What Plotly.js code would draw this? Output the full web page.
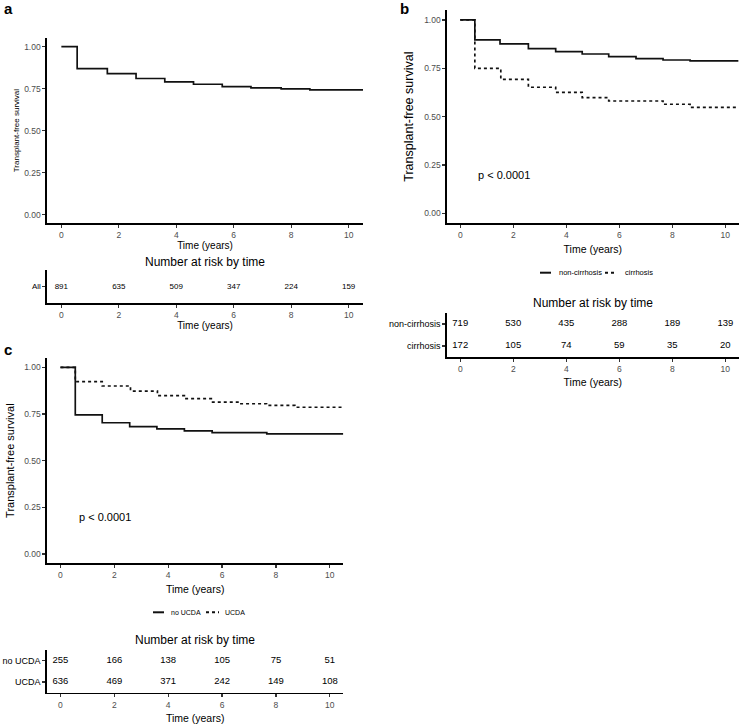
<!DOCTYPE html>
<html><head><meta charset="utf-8">
<script src="https://cdn.plot.ly/plotly-3.0.1.min.js"></script>
<style>html,body{margin:0;padding:0;background:#fff}#chart{width:740px;height:726px}</style>
</head><body><div id="chart"></div>
<script>
// ---------- data ----------
const riskTimes = [0, 2, 4, 6, 8, 10];
const survTicks = [0, 0.25, 0.5, 0.75, 1];
const survTickText = ['0.00', '0.25', '0.50', '0.75', '1.00'];

// panel a: all patients
const timesAll = [0, 0.55, 1.6, 2.6, 3.6, 4.6, 5.6, 6.6, 7.65, 8.65, 10.5];
const survAll  = [1.0, 0.869, 0.839, 0.81, 0.79, 0.776, 0.762, 0.754, 0.748, 0.742, 0.742];
const riskAll  = [891, 635, 509, 347, 224, 159];

// panel b: cirrhosis
const timesNonCirr = [0, 0.55, 1.5, 2.57, 3.6, 4.6, 5.6, 6.63, 7.65, 8.67, 10.5];
const survNonCirr  = [1.0, 0.897, 0.876, 0.852, 0.836, 0.824, 0.81, 0.80, 0.793, 0.788, 0.788];
const timesCirr    = [0, 0.55, 1.53, 2.57, 3.6, 4.6, 5.6, 7.65, 8.67, 10.5];
const survCirr     = [1.0, 0.75, 0.693, 0.652, 0.626, 0.598, 0.581, 0.564, 0.548, 0.548];
const riskNonCirr  = [719, 530, 435, 288, 189, 139];
const riskCirr     = [172, 105, 74, 59, 35, 20];

// panel c: UCDA
const timesNoUCDA = [0, 0.55, 1.55, 2.57, 3.58, 4.6, 5.63, 7.66, 10.5];
const survNoUCDA  = [1.0, 0.745, 0.703, 0.682, 0.67, 0.66, 0.65, 0.643, 0.643];
const timesUCDA   = [0, 0.55, 1.55, 2.6, 3.6, 4.6, 5.6, 6.65, 7.65, 8.7, 10.5];
const survUCDA    = [1.0, 0.923, 0.90, 0.873, 0.848, 0.832, 0.814, 0.805, 0.796, 0.786, 0.786];
const riskNoUCDA  = [255, 166, 138, 105, 75, 51];
const riskUCDA    = [636, 469, 371, 242, 149, 108];

const pText = 'p < 0.0001';

// ---------- layout helpers ----------
const W = 740, H = 726;
const FONT = '"Liberation Sans", Arial, Helvetica, sans-serif';
const px = x => x / W;
const py = y => 1 - y / H;

function xAxis(x0, x1, anchor, titleSize, standoff) {
  return {
    domain: [px(x0), px(x1)], anchor: anchor, range: [-0.5, 10.5],
    tickvals: riskTimes, showline: true, linecolor: '#000', linewidth: 1.6,
    ticks: 'outside', ticklen: 3, tickwidth: 1.2, tickcolor: '#333',
    showgrid: false, zeroline: false, fixedrange: true,
    tickfont: { size: 8.5, color: '#4d4d4d', family: FONT },
    title: { text: 'Time (years)', font: { size: titleSize, color: '#000', family: FONT }, standoff: standoff },
    automargin: false
  };
}
function ySurv(y0, y1, anchor, titleSize, standoff) {
  return {
    domain: [py(y1), py(y0)], anchor: anchor, range: [-0.05, 1.05],
    tickvals: survTicks, ticktext: survTickText, showline: true, linecolor: '#000', linewidth: 1.6,
    ticks: 'outside', ticklen: 3, tickwidth: 1.2, tickcolor: '#333',
    showgrid: false, zeroline: false, fixedrange: true,
    tickfont: { size: 8.5, color: '#4d4d4d', family: FONT },
    title: { text: 'Transplant-free survival', font: { size: titleSize, color: '#000', family: FONT }, standoff: standoff },
    automargin: false
  };
}
function yRisk(y0, y1, anchor, labels, nrows, fsize) {
  const vals = labels.map((_, i) => nrows - i);
  return {
    domain: [py(y1), py(y0)], anchor: anchor, range: [0.5, nrows + 0.5],
    tickvals: vals, ticktext: labels, showline: true, linecolor: '#000', linewidth: 1.6,
    ticks: 'outside', ticklen: 3, tickwidth: 1.2, tickcolor: '#333',
    showgrid: false, zeroline: false, fixedrange: true,
    tickfont: { size: fsize, color: '#000', family: FONT }, automargin: false
  };
}
function stepTrace(x, y, xa, ya, dash, name) {
  return { x: x, y: y, xaxis: xa, yaxis: ya, type: 'scatter', mode: 'lines', name: name,
    line: { shape: 'hv', color: '#111', width: 1.7, dash: dash }, hoverinfo: 'skip', showlegend: false };
}
function riskTrace(vals, row, xa, ya, fsize) {
  return { x: riskTimes, y: vals.map(() => row), text: vals.map(String), xaxis: xa, yaxis: ya,
    type: 'scatter', mode: 'text', textposition: 'middle center', cliponaxis: false,
    textfont: { size: fsize, color: '#000', family: FONT }, hoverinfo: 'skip', showlegend: false };
}

const data = [
  stepTrace(timesAll, survAll, 'x', 'y', 'solid', 'All'),
  riskTrace(riskAll, 1, 'x2', 'y2', 8),
  stepTrace(timesCirr, survCirr, 'x3', 'y3', '3px,3px', 'cirrhosis'),
  stepTrace(timesNonCirr, survNonCirr, 'x3', 'y3', 'solid', 'non-cirrhosis'),
  riskTrace(riskNonCirr, 2, 'x4', 'y4', 9.5),
  riskTrace(riskCirr, 1, 'x4', 'y4', 9.5),
  stepTrace(timesUCDA, survUCDA, 'x5', 'y5', '3px,3px', 'UCDA'),
  stepTrace(timesNoUCDA, survNoUCDA, 'x5', 'y5', 'solid', 'no UCDA'),
  riskTrace(riskNoUCDA, 2, 'x6', 'y6', 9.5),
  riskTrace(riskUCDA, 1, 'x6', 'y6', 9.5)
];

function ann(text, x, y, size, opts) {
  return Object.assign({ text: text, x: px(x), y: py(y), xref: 'paper', yref: 'paper',
    showarrow: false, xanchor: 'center', yanchor: 'middle',
    font: { size: size, color: '#000', family: FONT } }, opts || {});
}
function legLine(x0, x1, y, dash) {
  return { type: 'line', xref: 'paper', yref: 'paper', x0: px(x0), x1: px(x1), y0: py(y), y1: py(y),
    line: { color: '#111', width: 2, dash: dash } };
}

const layout = {
  width: W, height: H, margin: { l: 0, r: 0, t: 0, b: 0 },
  paper_bgcolor: '#fff', plot_bgcolor: '#fff', showlegend: false,
  font: { family: FONT, color: '#000' },
  xaxis: xAxis(47, 363, 'y', 10, 0),
  yaxis: ySurv(38.2, 223, 'x', 8, 3),
  xaxis2: xAxis(47, 363, 'y2', 10, 0),
  yaxis2: yRisk(270, 303, 'x2', ['All'], 1, 8),
  xaxis3: xAxis(447, 738.6, 'y3', 10.5, 7),
  yaxis3: ySurv(10.3, 223, 'x3', 12.5, 8),
  xaxis4: xAxis(447, 738.6, 'y4', 10.5, 6),
  yaxis4: yRisk(313, 357, 'x4', ['non-cirrhosis', 'cirrhosis'], 2, 9),
  xaxis5: xAxis(47, 343.3, 'y5', 10.5, 6),
  yaxis5: ySurv(358, 563.3, 'x5', 11, 7),
  xaxis6: xAxis(47, 343.3, 'y6', 10.5, 6),
  yaxis6: yRisk(650, 692.7, 'x6', ['no UCDA', 'UCDA'], 2, 9),
  annotations: [
    ann('<b>a</b>', 8, 9, 15),
    ann('<b>b</b>', 404.5, 8, 15),
    ann('<b>c</b>', 8, 349, 15),
    ann('Number at risk by time', 205, 262, 12),
    ann('Number at risk by time', 592.8, 303, 12),
    ann('Number at risk by time', 195.2, 640, 12),
    { text: pText, x: 0.6, y: 0.2, xref: 'x3', yref: 'y3', xanchor: 'left', yanchor: 'middle', showarrow: false,
      font: { size: 11, color: '#000', family: FONT } },
    { text: pText, x: 0.6, y: 0.2, xref: 'x5', yref: 'y5', xanchor: 'left', yanchor: 'middle', showarrow: false,
      font: { size: 11, color: '#000', family: FONT } },
    ann('non-cirrhosis', 556.7, 272.7, 7.5, { xanchor: 'left' }),
    ann('cirrhosis', 622.7, 272.7, 7.5, { xanchor: 'left' }),
    ann('no UCDA', 169, 612.3, 7, { xanchor: 'left' }),
    ann('UCDA', 222.7, 612.3, 7, { xanchor: 'left' })
  ],
  shapes: [
    legLine(540, 551, 272.7, 'solid'),
    legLine(605, 614, 272.7, '3px,3px'),
    legLine(153, 164, 612.3, 'solid'),
    legLine(206, 219, 612.3, '3px,3px')
  ]
};

Plotly.newPlot('chart', data, layout, { staticPlot: true, displayModeBar: false });
</script>
</body></html>
